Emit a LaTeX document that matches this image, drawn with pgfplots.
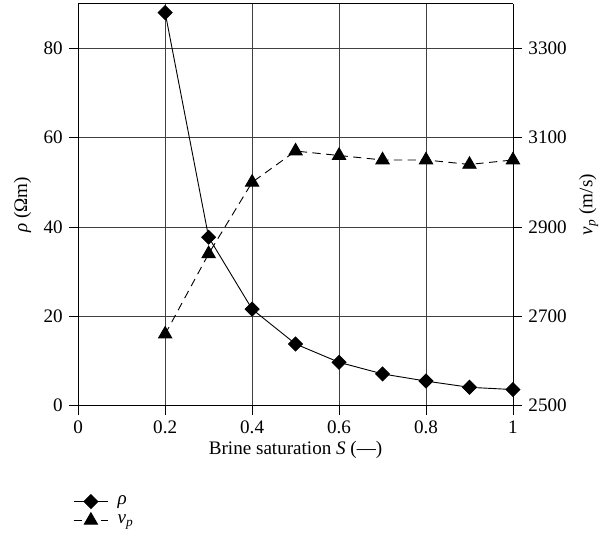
\documentclass[border=0pt]{standalone}
\usepackage{fontspec}
\setmainfont{Liberation Serif}
\usepackage{pgfplots}
\pgfplotsset{compat=1.18}

\pgfplotsset{
  common/.style={
    width=239pt, height=221pt, scale only axis,
    xmin=0, xmax=1,
    tick align=outside, major tick length=5pt,
    tick style={black, line width=0.5pt},
    font=\fontsize{10.5}{12}\selectfont,
    /pgf/number format/assume math mode=true,
    /pgf/number format/1000 sep={},
    every axis plot/.append style={line width=0.5pt},
  },
}

\begin{document}
\begin{tikzpicture}
\useasboundingbox (-43pt,-74pt) rectangle (289.6pt,223pt);
\begin{axis}[
  common,
  ymin=0, ymax=90,
  ytick={0,20,40,60,80},
  xtick={0,0.2,0.4,0.6,0.8,1},
  xticklabels={0,0.2,0.4,0.6,0.8,1},
  axis y line*=left, axis x line*=bottom,
  grid=major, grid style={black!75, line width=0.5pt},
  xlabel={Brine saturation \textit{S} (—)},
  xlabel style={yshift=3pt},
  ylabel={\textit{ρ} (Ωm)},
  legend style={draw=none, at={(-0.025,-0.205)}, anchor=north west,
    font=\fontsize{10.5}{12}\selectfont, row sep=0pt,
    cells={anchor=west}},
  legend image code/.code={
    \draw[mark repeat=2, mark phase=2, #1] plot coordinates {(0pt,0pt) (9.5pt,0pt) (19pt,0pt)};
  },
]
\addplot[black, mark=square*, mark size=2.7pt, mark options={rotate=45, solid}] coordinates {
  (0.2,88) (0.3,37.7) (0.4,21.6) (0.5,13.8) (0.6,9.7) (0.7,7.1) (0.8,5.5) (0.9,4.1) (1.0,3.6)
};
\addlegendentry{\hspace{3pt}\textit{ρ}}
\addlegendimage{black, dash pattern=on 4.5pt off 3pt, line width=0.5pt, mark=triangle*, mark size=4.2pt, mark options={solid}}
\addlegendentry{\hspace{3pt}\textit{v\textsubscript{p}}}
% box lines
\draw[black, line width=0.5pt] (rel axis cs:0,1) -- (rel axis cs:1,1) -- (rel axis cs:1,0);
\end{axis}
\begin{axis}[
  common,
  ymin=2500, ymax=3400,
  ytick={2500,2700,2900,3100,3300},
  axis y line*=right, axis x line=none,
  ylabel={\textit{v\textsubscript{p}} (m/s)},
]
\addplot[black, dash pattern=on 4.5pt off 3pt, mark=triangle*, mark size=4.2pt, mark options={solid}] coordinates {
  (0.2,2660) (0.3,2840) (0.4,3000) (0.5,3070) (0.6,3060) (0.7,3050) (0.8,3050) (0.9,3040) (1.0,3050)
};
\end{axis}
\end{tikzpicture}
\end{document}
